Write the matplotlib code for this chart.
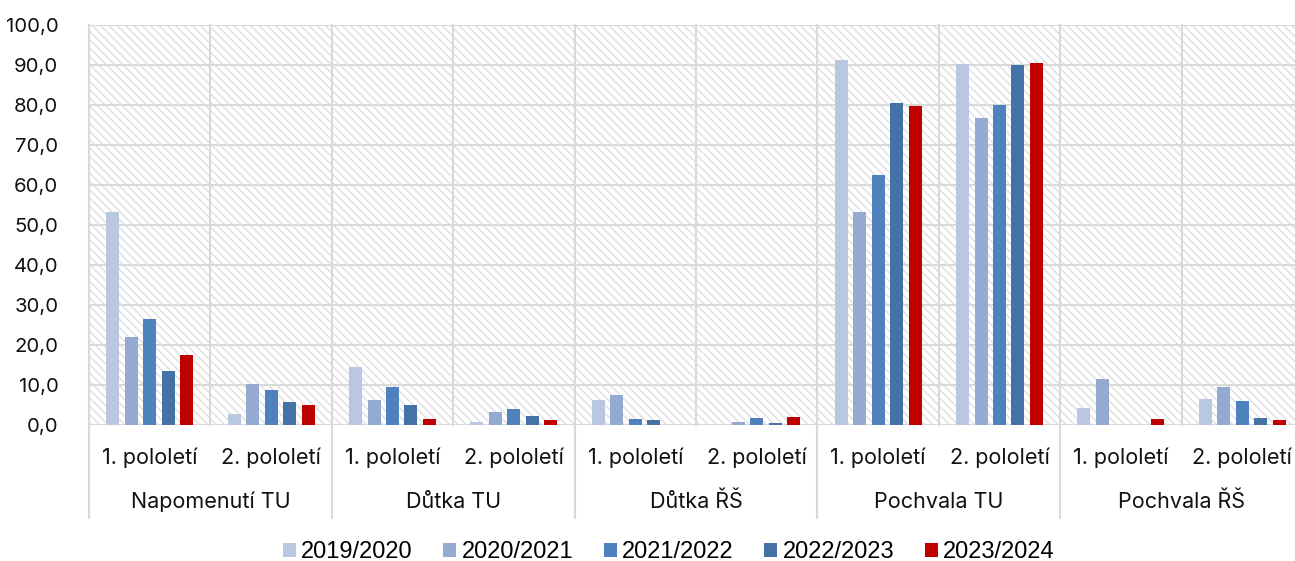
import matplotlib
matplotlib.use("Agg")
import matplotlib.pyplot as plt
import matplotlib.transforms as mtransforms
from matplotlib.patches import Rectangle
from matplotlib.lines import Line2D
import numpy as np

groups = ["Napomenutí TU", "Důtka TU", "Důtka ŘŠ", "Pochvala TU", "Pochvala ŘŠ"]
semesters = ["1. pololetí", "2. pololetí"]
series_names = ["2019/2020", "2020/2021", "2021/2022", "2022/2023", "2023/2024"]
colors = ["#B9C7E1", "#95AAD0", "#4F81BD", "#4472A6", "#C00000"]

# values per category (group x semester), in order of series
s2019 = [53.2, 2.8, 14.5, 0.7, 6.3, 0.0, 91.2, 90.3, 4.2, 6.5]
s2020 = [22.0, 10.2, 6.3, 3.2, 7.5, 0.7, 53.2, 76.8, 11.5, 9.5]
s2021 = [26.5, 8.8, 9.5, 4.0, 1.5, 1.7, 62.5, 80.1, 0.0, 6.0]
s2022 = [13.5, 5.8, 5.0, 2.2, 1.2, 0.6, 80.5, 90.0, 0.0, 1.7]
s2023 = [17.5, 5.0, 1.5, 1.3, 0.0, 2.0, 79.7, 90.5, 1.5, 1.3]
series = [s2019, s2020, s2021, s2022, s2023]
yticks = [0, 10, 20, 30, 40, 50, 60, 70, 80, 90, 100]

FONT = "Inter"
plt.rcParams["font.family"] = [FONT, "DejaVu Sans"]
plt.rcParams["hatch.linewidth"] = 0.9

W, H = 1295, 561
fig = plt.figure(figsize=(W / 100, H / 100), dpi=100)
left, right, top, bottom = 89, 1303, 25, 425
ax = fig.add_axes([left / W, (H - bottom) / H, (right - left) / W, (bottom - top) / H])

grid_c = "#D9D9D9"
ax.set_facecolor("white")
ax.add_patch(Rectangle((0, 0), 1, 1, transform=ax.transAxes, facecolor="white",
                       edgecolor="#DCDCDC", hatch="\\\\\\\\", linewidth=0, zorder=0))

ncat = len(groups) * len(semesters)
x = np.arange(ncat) + 0.5
bw = 0.107
step = 0.152
for i, (vals, c, name) in enumerate(zip(series, colors, series_names)):
    ax.bar(x + (i - 2) * step, vals, width=bw, color=c, label=name, zorder=3)

ax.set_xlim(0, ncat)
ax.set_ylim(0, 100)
ax.set_yticks(yticks)
ax.set_yticklabels([f"{v:.1f}".replace(".", ",") for v in yticks], fontsize=14.6,
                   color="#111111")
ax.tick_params(axis="y", length=0, pad=22)
ax.tick_params(axis="x", length=0, labelbottom=False)
for sp in ax.spines.values():
    sp.set_visible(False)

for yv in yticks:
    ax.axhline(yv, color=grid_c, lw=1.5, zorder=1)

trans = mtransforms.blended_transform_factory(ax.transData, ax.transAxes)
for b in range(ncat + 1):
    if b % 2 == 0:
        ax.add_line(Line2D([b, b], [-0.2325, 1], transform=trans, color=grid_c,
                           lw=1.5, clip_on=False, zorder=1))
    else:
        ax.add_line(Line2D([b, b], [0, 1], transform=trans, color=grid_c,
                           lw=1.5, clip_on=False, zorder=1))

for k in range(ncat):
    ax.text(k + 0.5, -0.083, semesters[k % 2], transform=trans, ha="center",
            va="center", fontsize=15.5, color="#111111")
for g, name in enumerate(groups):
    ax.text(2 * g + 1, -0.193, name, transform=trans, ha="center",
            va="center", fontsize=15.5, color="#111111")

leg = fig.legend(loc="center", bbox_to_anchor=(0.5165, (H - 552) / H), ncol=5,
                 frameon=False, handlelength=0.55, handleheight=0.55,
                 handletextpad=0.22, columnspacing=1.3,
                 prop={"family": "Liberation Sans", "size": 17})

fig.savefig("out.png", dpi=100)
